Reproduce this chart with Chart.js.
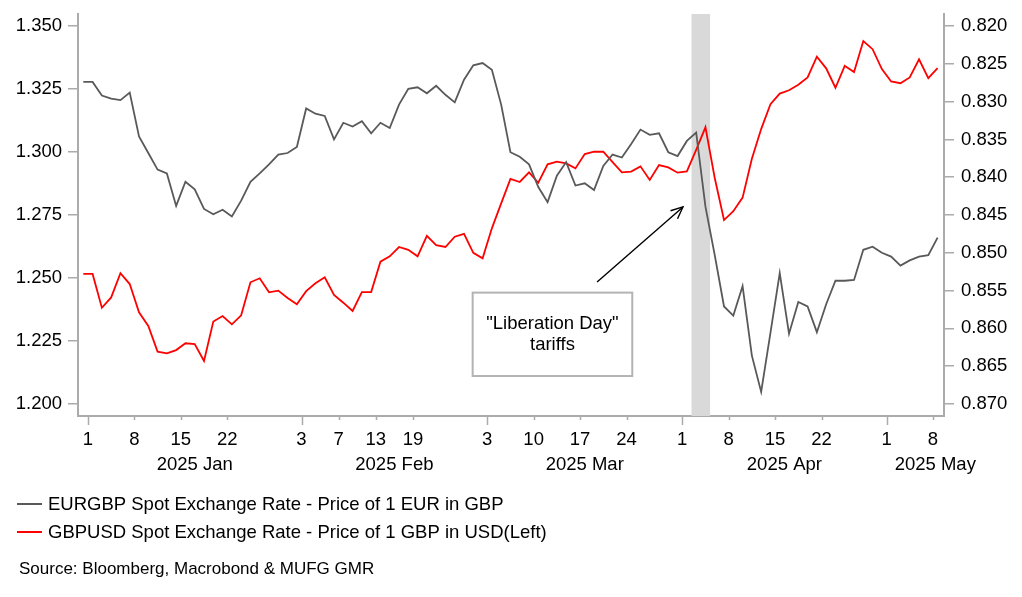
<!DOCTYPE html>
<html><head><meta charset="utf-8">
<script src="https://cdn.jsdelivr.net/npm/chart.js@4.4.1/dist/chart.umd.min.js"></script>
<style>html,body{margin:0;padding:0;background:#fff;}#wrap{width:1022px;height:597px;}</style>
</head><body><div id="wrap"><canvas id="c" width="1022" height="597"></canvas></div>
<script>
// Business days from 2024-12-31 (index 0) to 2025-05-08 (index 92)
const gbpusd = [1.2516,1.2516,1.2382,1.2423,1.2519,1.2476,1.2364,1.2310,1.2208,1.2201,
  1.2214,1.2241,1.2238,1.2171,1.2327,1.2349,1.2316,1.2352,1.2483,1.2499,
  1.2443,1.2450,1.2421,1.2396,1.2448,1.2479,1.2503,1.2433,1.2402,1.2369,
  1.2444,1.2444,1.2565,1.2586,1.2623,1.2612,1.2586,1.2667,1.2630,1.2623,
  1.2664,1.2675,1.2600,1.2578,1.2697,1.2796,1.2893,1.2881,1.2919,1.2878,
  1.2951,1.2962,1.2955,1.2935,1.2992,1.3001,1.3001,1.2960,1.2919,1.2922,
  1.2943,1.2889,1.2948,1.2939,1.2918,1.2923,1.3008,1.3098,1.2897,1.2730,
  1.2765,1.2819,1.2973,1.3091,1.3190,1.3232,1.3245,1.3267,1.3296,1.3378,
  1.3332,1.3255,1.3342,1.3317,1.3440,1.3408,1.3329,1.3280,1.3273,1.3296,
  1.3368,1.3293,1.3333];
const eurgbp = [0.8274,0.8274,0.8292,0.8296,0.8298,0.8288,0.8346,0.8368,0.8390,0.8395,
  0.8438,0.8406,0.8416,0.8442,0.8449,0.8443,0.8452,0.8431,0.8406,0.8395,
  0.8383,0.8370,0.8368,0.8360,0.8309,0.8316,0.8319,0.8350,0.8328,0.8333,
  0.8326,0.8342,0.8328,0.8335,0.8304,0.8283,0.8281,0.8289,0.8279,0.8291,
  0.8301,0.8271,0.8252,0.8249,0.8258,0.8304,0.8367,0.8373,0.8383,0.8413,
  0.8433,0.8398,0.8380,0.8411,0.8408,0.8417,0.8385,0.8370,0.8374,0.8356,
  0.8337,0.8344,0.8342,0.8367,0.8372,0.8352,0.8341,0.8439,0.8503,0.8571,
  0.8583,0.8544,0.8636,0.8684,0.8606,0.8527,0.8607,0.8565,0.8571,0.8605,
  0.8568,0.8537,0.8537,0.8536,0.8496,0.8492,0.8500,0.8505,0.8517,0.8510,
  0.8505,0.8503,0.8480];
const dayTickLabels = ['1','8','15','22','3','7','13','19','3','10','17','24','1','8','15','22','1','8'];
const dayTickIndex  = [1,6,11,16,24,28,32,36,44,49,54,59,65,70,75,80,87,92];
const monthLabels = ['2025 Jan','2025 Feb','2025 Mar','2025 Apr','2025 May'];
const monthStartIndex = [1,24,44,65,87];
const leftTicks = [1.200,1.225,1.250,1.275,1.300,1.325,1.350];
const rightTicks = [0.820,0.825,0.830,0.835,0.840,0.845,0.850,0.855,0.860,0.865,0.870];
const seriesNames = ['EURGBP Spot Exchange Rate - Price of 1 EUR in GBP',
                     'GBPUSD Spot Exchange Rate - Price of 1 GBP in USD(Left)'];
const eventDays = [66, 67]; // 2 & 3 April 2025
const annotationText = ['"Liberation Day"', 'tariffs'];
const sourceText = 'Source: Bloomberg, Macrobond & MUFG GMR';

const FONT = "'Liberation Sans', Arial, sans-serif";
const GREY = '#595959', RED = '#ff0000', AXIS = '#ababab';

const extras = {
  id: 'extras',
  beforeDatasetsDraw(chart) {
    const {ctx, chartArea: a, scales: {x}} = chart;
    const x0 = x.getPixelForValue(eventDays[0] - 0.5);
    const x1 = x.getPixelForValue(eventDays[eventDays.length - 1] + 0.5);
    ctx.save();
    ctx.fillStyle = '#d9d9d9';
    ctx.fillRect(x0, a.top, x1 - x0, a.bottom - a.top);
    ctx.restore();
  },
  afterDatasetsDraw(chart) {
    const {ctx, scales: {x, y}} = chart;
    ctx.save();
    const bx0 = x.getPixelForValue(41.93), bx1 = x.getPixelForValue(59.12);
    const by0 = y.getPixelForValue(1.2442), by1 = y.getPixelForValue(1.2111);
    ctx.fillStyle = '#fff';
    ctx.fillRect(bx0, by0, bx1 - bx0, by1 - by0);
    ctx.strokeStyle = '#b3b3b3'; ctx.lineWidth = 2;
    ctx.strokeRect(bx0, by0, bx1 - bx0, by1 - by0);
    ctx.fillStyle = '#000'; ctx.font = '18.5px ' + FONT;
    ctx.textAlign = 'center'; ctx.textBaseline = 'middle';
    const cx = (bx0 + bx1) / 2, cy = (by0 + by1) / 2;
    ctx.fillText(annotationText[0], cx, cy - 10);
    ctx.fillText(annotationText[1], cx, cy + 11);
    const tx = x.getPixelForValue(55.33), ty = y.getPixelForValue(1.2484);
    const hx = x.getPixelForValue(64.58), hy = y.getPixelForValue(1.2782);
    ctx.strokeStyle = '#000'; ctx.lineWidth = 1.4;
    ctx.beginPath(); ctx.moveTo(tx, ty); ctx.lineTo(hx, hy); ctx.stroke();
    const ang = Math.atan2(hy - ty, hx - tx), L = 13, sp = 0.42;
    ctx.beginPath();
    ctx.moveTo(hx - L * Math.cos(ang - sp), hy - L * Math.sin(ang - sp));
    ctx.lineTo(hx, hy);
    ctx.lineTo(hx - L * Math.cos(ang + sp), hy - L * Math.sin(ang + sp));
    ctx.stroke();
    ctx.restore();
  },
  afterDraw(chart) {
    const {ctx, chartArea: a, scales: {x}} = chart;
    ctx.save();
    ctx.strokeStyle = AXIS; ctx.lineWidth = 1.5;
    dayTickIndex.forEach(i => {
      const px = Math.round(x.getPixelForValue(i - 0.5)) + 0.5;
      const len = monthStartIndex.includes(i) ? 9 : 4;
      ctx.beginPath(); ctx.moveTo(px, a.bottom); ctx.lineTo(px, a.bottom + len); ctx.stroke();
    });
    ctx.fillStyle = '#000'; ctx.font = '18.5px ' + FONT;
    ctx.textAlign = 'center'; ctx.textBaseline = 'middle';
    monthLabels.forEach((m, k) => {
      const s = monthStartIndex[k] - 0.5;
      const e = k + 1 < monthStartIndex.length ? monthStartIndex[k + 1] - 0.5 : 97;
      let cxp = x.getPixelForValue((s + e) / 2);
      const w = ctx.measureText(m).width;
      cxp = Math.min(cxp, chart.width - 45 - w / 2);
      ctx.fillText(m, cxp, 465);
    });
    const rows = [[GREY, seriesNames[0], 504], [RED, seriesNames[1], 532]];
    ctx.textAlign = 'left';
    rows.forEach(([c, t, yy]) => {
      ctx.strokeStyle = c; ctx.lineWidth = 2;
      ctx.beginPath(); ctx.moveTo(17, yy); ctx.lineTo(42, yy); ctx.stroke();
      ctx.fillStyle = '#000'; ctx.fillText(t, 48, yy + 1);
    });
    ctx.font = '17px ' + FONT;
    ctx.fillText(sourceText, 19, 569);
    ctx.restore();
  }
};

const fitV = s => { s.width = 78; s.paddingTop = 0; s.paddingBottom = 0; };

new Chart(document.getElementById('c'), {
  type: 'line',
  data: {
    datasets: [
      { label: seriesNames[0], data: eurgbp.map((v, i) => ({x: i, y: v})), yAxisID: 'y1',
        borderColor: GREY, borderWidth: 1.8, pointRadius: 0, tension: 0, fill: false },
      { label: seriesNames[1], data: gbpusd.map((v, i) => ({x: i, y: v})), yAxisID: 'y',
        borderColor: RED, borderWidth: 1.8, pointRadius: 0, tension: 0, fill: false }
    ]
  },
  options: {
    responsive: false, animation: false, devicePixelRatio: 1,
    layout: { padding: { top: 14, left: 0, right: 0, bottom: 0 } },
    plugins: { legend: { display: false }, tooltip: { enabled: false } },
    scales: {
      x: {
        type: 'linear', min: -0.571, max: 92.69,
        afterBuildTicks: s => { s.ticks = dayTickIndex.map(i => ({value: i - 0.5})); },
        ticks: { callback: (v, i) => dayTickLabels[i], autoSkip: false, maxRotation: 0,
                 color: '#000', font: { family: FONT, size: 18.5 }, padding: 13 },
        grid: { display: true, drawOnChartArea: false, drawTicks: false },
        border: { display: true, color: AXIS, width: 2 },
        afterFit: s => { s.height = 181; s.paddingLeft = 0; s.paddingRight = 0; }
      },
      y: {
        position: 'left', min: 1.19524, max: 1.35476,
        afterBuildTicks: s => { s.ticks = leftTicks.map(v => ({value: v})); },
        ticks: { callback: v => v.toFixed(3), color: '#000', font: { family: FONT, size: 18.5 }, padding: 6 },
        grid: { drawOnChartArea: false, drawTicks: true, tickLength: 10, color: AXIS, lineWidth: 1.5 },
        border: { display: true, color: AXIS, width: 2 },
        afterFit: fitV
      },
      y1: {
        position: 'right', reverse: true, min: 0.81841, max: 0.87159,
        afterBuildTicks: s => { s.ticks = rightTicks.map(v => ({value: v})); },
        ticks: { callback: v => v.toFixed(3), color: '#000', font: { family: FONT, size: 18.5 }, padding: 7 },
        grid: { drawOnChartArea: false, drawTicks: true, tickLength: 10, color: AXIS, lineWidth: 1.5 },
        border: { display: true, color: AXIS, width: 2 },
        afterFit: fitV
      }
    }
  },
  plugins: [extras]
});
</script></body></html>
